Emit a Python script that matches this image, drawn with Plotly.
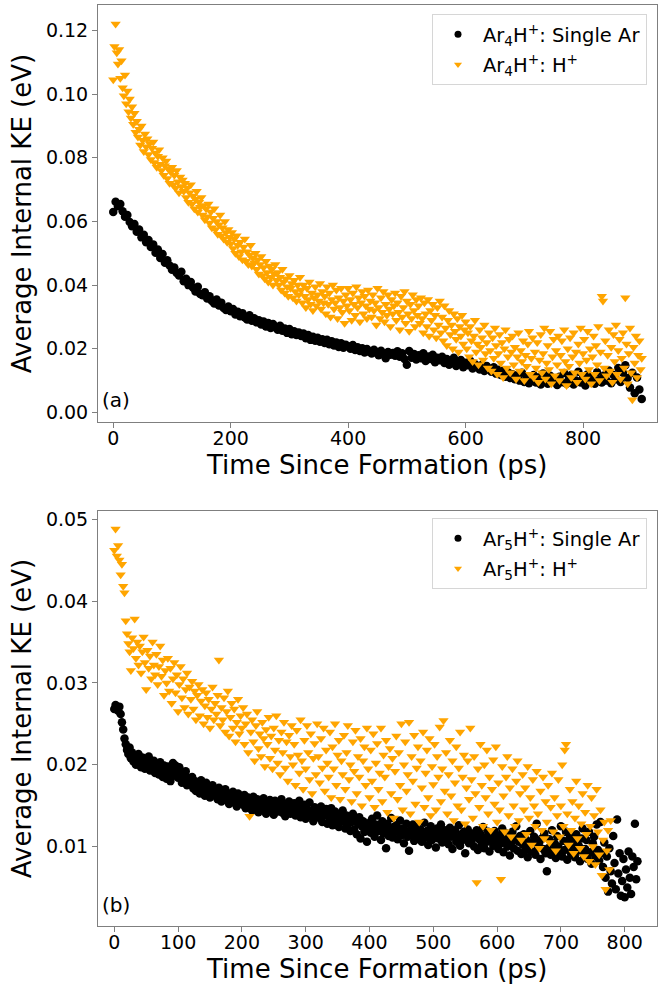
import plotly.graph_objects as go

# ---------------- Panel (a): Ar4H+ ----------------
time_a_single_ar = list(range(0, 901, 4))  # ps
time_a_h = list(range(0, 901, 2))          # ps

ke_a_single_ar = [
    0.0630, 0.0662, 0.0648, 0.0655, 0.0632, 0.0615, 0.0620, 0.0598, 0.0585, 0.0592,
    0.0568, 0.0575, 0.0550, 0.0558, 0.0535, 0.0542, 0.0520, 0.0528, 0.0502, 0.0512,
    0.0485, 0.0498, 0.0470, 0.0478, 0.0462, 0.0448, 0.0455, 0.0438, 0.0430, 0.0442,
    0.0412, 0.0420, 0.0400, 0.0410, 0.0392, 0.0380, 0.0395, 0.0372, 0.0368, 0.0378,
    0.0358, 0.0365, 0.0350, 0.0342, 0.0355, 0.0336, 0.0345, 0.0328, 0.0322, 0.0333,
    0.0318, 0.0325, 0.0308, 0.0316, 0.0302, 0.0312, 0.0298, 0.0292, 0.0305, 0.0288,
    0.0296, 0.0283, 0.0290, 0.0276, 0.0286, 0.0270, 0.0281, 0.0265, 0.0278, 0.0268,
    0.0260, 0.0272, 0.0257, 0.0264, 0.0250, 0.0262, 0.0246, 0.0255, 0.0243, 0.0251,
    0.0240, 0.0248, 0.0233, 0.0243, 0.0228, 0.0238, 0.0225, 0.0235, 0.0222, 0.0230,
    0.0218, 0.0228, 0.0214, 0.0224, 0.0210, 0.0220, 0.0206, 0.0217, 0.0203, 0.0213,
    0.0208, 0.0200, 0.0212, 0.0196, 0.0205, 0.0193, 0.0202, 0.0188, 0.0199, 0.0191,
    0.0185, 0.0197, 0.0188, 0.0180, 0.0194, 0.0183, 0.0170, 0.0190, 0.0181, 0.0187,
    0.0178, 0.0192, 0.0175, 0.0186, 0.0168, 0.0150, 0.0193, 0.0172, 0.0184, 0.0166,
    0.0180, 0.0170, 0.0186, 0.0162, 0.0176, 0.0168, 0.0181, 0.0158, 0.0172, 0.0164,
    0.0175, 0.0155, 0.0168, 0.0150, 0.0163, 0.0172, 0.0146, 0.0158, 0.0165, 0.0142,
    0.0156, 0.0148, 0.0162, 0.0138, 0.0152, 0.0144, 0.0135, 0.0150, 0.0130, 0.0146,
    0.0136, 0.0128, 0.0142, 0.0122, 0.0134, 0.0118, 0.0130, 0.0112, 0.0126, 0.0108,
    0.0120, 0.0104, 0.0116, 0.0100, 0.0125, 0.0096, 0.0112, 0.0092, 0.0108, 0.0118,
    0.0094, 0.0110, 0.0088, 0.0122, 0.0100, 0.0090, 0.0115, 0.0098, 0.0106, 0.0086,
    0.0112, 0.0095, 0.0124, 0.0090, 0.0105, 0.0118, 0.0088, 0.0100, 0.0128, 0.0094,
    0.0108, 0.0085, 0.0120, 0.0098, 0.0112, 0.0090, 0.0126, 0.0102, 0.0094, 0.0116,
    0.0100, 0.0132, 0.0092, 0.0118, 0.0104, 0.0140, 0.0096, 0.0125, 0.0148, 0.0108,
    0.0078, 0.0125, 0.0060, 0.0110, 0.0072, 0.0042,
]

ke_a_h = [
    0.1045, 0.1150, 0.1220, 0.1130, 0.1095, 0.1140, 0.1050, 0.1105, 0.1020, 0.0995, 0.1060, 0.0970, 0.1010, 0.0945, 0.0985, 0.0925, 0.0960, 0.0905, 0.0940, 0.0880,
    0.0915, 0.0865, 0.0890, 0.0840, 0.0900, 0.0855, 0.0820, 0.0875, 0.0835, 0.0860, 0.0810, 0.0845, 0.0795, 0.0830, 0.0850, 0.0785, 0.0815, 0.0770, 0.0805, 0.0825,
    0.0780, 0.0760, 0.0800, 0.0745, 0.0775, 0.0790, 0.0735, 0.0765, 0.0720, 0.0755, 0.0770, 0.0715, 0.0745, 0.0705, 0.0760, 0.0725, 0.0690, 0.0740, 0.0710, 0.0730,
    0.0695, 0.0720, 0.0675, 0.0705, 0.0660, 0.0690, 0.0715, 0.0655, 0.0680, 0.0640, 0.0670, 0.0695, 0.0630, 0.0660, 0.0645, 0.0675, 0.0620, 0.0650, 0.0605, 0.0640,
    0.0615, 0.0655, 0.0595, 0.0630, 0.0580, 0.0610, 0.0640, 0.0575, 0.0600, 0.0560, 0.0590, 0.0620, 0.0555, 0.0580, 0.0545, 0.0600, 0.0565, 0.0535, 0.0575, 0.0550,
    0.0530, 0.0565, 0.0515, 0.0545, 0.0500, 0.0555, 0.0525, 0.0490, 0.0535, 0.0505, 0.0480, 0.0520, 0.0545, 0.0475, 0.0505, 0.0465, 0.0495, 0.0525, 0.0460, 0.0485,
    0.0470, 0.0500, 0.0450, 0.0480, 0.0435, 0.0465, 0.0490, 0.0430, 0.0455, 0.0420, 0.0475, 0.0440, 0.0410, 0.0460, 0.0425, 0.0450, 0.0400, 0.0435, 0.0465, 0.0415,
    0.0440, 0.0400, 0.0425, 0.0385, 0.0450, 0.0410, 0.0375, 0.0420, 0.0395, 0.0365, 0.0430, 0.0390, 0.0405, 0.0360, 0.0415, 0.0380, 0.0350, 0.0400, 0.0370, 0.0425,
    0.0385, 0.0345, 0.0400, 0.0365, 0.0330, 0.0390, 0.0355, 0.0410, 0.0340, 0.0375, 0.0320, 0.0360, 0.0395, 0.0335, 0.0370, 0.0350, 0.0405, 0.0325, 0.0380, 0.0345,
    0.0365, 0.0310, 0.0395, 0.0340, 0.0375, 0.0300, 0.0355, 0.0400, 0.0325, 0.0345, 0.0385, 0.0295, 0.0360, 0.0330, 0.0390, 0.0315, 0.0350, 0.0280, 0.0370, 0.0335,
    0.0390, 0.0320, 0.0355, 0.0290, 0.0375, 0.0340, 0.0305, 0.0395, 0.0330, 0.0360, 0.0285, 0.0345, 0.0380, 0.0310, 0.0365, 0.0335, 0.0295, 0.0385, 0.0325, 0.0350,
    0.0300, 0.0370, 0.0320, 0.0345, 0.0275, 0.0390, 0.0330, 0.0295, 0.0360, 0.0315, 0.0380, 0.0285, 0.0340, 0.0305, 0.0370, 0.0325, 0.0270, 0.0355, 0.0310, 0.0335,
    0.0375, 0.0290, 0.0345, 0.0315, 0.0260, 0.0365, 0.0300, 0.0330, 0.0380, 0.0280, 0.0350, 0.0310, 0.0255, 0.0340, 0.0295, 0.0370, 0.0320, 0.0270, 0.0355, 0.0305,
    0.0335, 0.0280, 0.0360, 0.0295, 0.0250, 0.0345, 0.0310, 0.0270, 0.0355, 0.0240, 0.0320, 0.0290, 0.0340, 0.0260, 0.0305, 0.0235, 0.0330, 0.0275, 0.0350, 0.0250,
    0.0300, 0.0225, 0.0335, 0.0265, 0.0210, 0.0290, 0.0320, 0.0245, 0.0275, 0.0200, 0.0310, 0.0255, 0.0230, 0.0295, 0.0190, 0.0270, 0.0240, 0.0305, 0.0215, 0.0260,
    0.0285, 0.0200, 0.0250, 0.0175, 0.0270, 0.0225, 0.0160, 0.0240, 0.0290, 0.0190, 0.0215, 0.0150, 0.0260, 0.0205, 0.0235, 0.0165, 0.0275, 0.0185, 0.0220, 0.0140,
    0.0250, 0.0195, 0.0130, 0.0235, 0.0170, 0.0265, 0.0210, 0.0120, 0.0185, 0.0245, 0.0155, 0.0220, 0.0110, 0.0200, 0.0260, 0.0140, 0.0175, 0.0230, 0.0125, 0.0190,
    0.0240, 0.0150, 0.0205, 0.0105, 0.0175, 0.0250, 0.0130, 0.0195, 0.0160, 0.0225, 0.0100, 0.0180, 0.0145, 0.0215, 0.0255, 0.0120, 0.0170, 0.0235, 0.0110, 0.0190,
    0.0140, 0.0220, 0.0095, 0.0165, 0.0245, 0.0125, 0.0185, 0.0265, 0.0105, 0.0155, 0.0210, 0.0135, 0.0255, 0.0090, 0.0175, 0.0230, 0.0115, 0.0195, 0.0150, 0.0240,
    0.0100, 0.0180, 0.0225, 0.0130, 0.0260, 0.0160, 0.0085, 0.0200, 0.0145, 0.0235, 0.0110, 0.0175, 0.0250, 0.0125, 0.0190, 0.0095, 0.0215, 0.0155, 0.0265, 0.0120,
    0.0185, 0.0230, 0.0105, 0.0165, 0.0255, 0.0135, 0.0200, 0.0090, 0.0175, 0.0240, 0.0120, 0.0210, 0.0150, 0.0270, 0.0100, 0.0190, 0.0365, 0.0350, 0.0140, 0.0225,
    0.0115, 0.0180, 0.0260, 0.0130, 0.0205, 0.0095, 0.0245, 0.0160, 0.0275, 0.0120, 0.0195, 0.0230, 0.0105, 0.0170, 0.0250, 0.0140, 0.0360, 0.0215, 0.0090, 0.0185,
    0.0265, 0.0125, 0.0040, 0.0205, 0.0155, 0.0240, 0.0110, 0.0180, 0.0225, 0.0135, 0.0170,
]

# ---------------- Panel (b): Ar5H+ ----------------
time_b_single_ar = list(range(0, 821, 2))  # ps
time_b_h = list(range(0, 779, 2))          # ps

ke_b_single_ar = [
    0.0268, 0.0273, 0.0270, 0.0266, 0.0271, 0.0262, 0.0252, 0.0243, 0.0232, 0.0225, 0.0218, 0.0213, 0.0221, 0.0208, 0.0215, 0.0204, 0.0211, 0.0200, 0.0207, 0.0213,
    0.0203, 0.0197, 0.0209, 0.0201, 0.0195, 0.0206, 0.0199, 0.0210, 0.0193, 0.0202, 0.0196, 0.0205, 0.0190, 0.0200, 0.0194, 0.0188, 0.0203, 0.0197, 0.0185, 0.0199,
    0.0192, 0.0183, 0.0198, 0.0189, 0.0180, 0.0194, 0.0202, 0.0187, 0.0199, 0.0193, 0.0184, 0.0197, 0.0190, 0.0178, 0.0186, 0.0181, 0.0192, 0.0175, 0.0184, 0.0179,
    0.0176, 0.0185, 0.0171, 0.0180, 0.0168, 0.0177, 0.0173, 0.0165, 0.0181, 0.0170, 0.0174, 0.0162, 0.0178, 0.0167, 0.0172, 0.0160, 0.0169, 0.0175, 0.0163, 0.0170,
    0.0166, 0.0158, 0.0172, 0.0164, 0.0155, 0.0168, 0.0161, 0.0170, 0.0157, 0.0165, 0.0152, 0.0163, 0.0159, 0.0167, 0.0154, 0.0161, 0.0149, 0.0165, 0.0156, 0.0162,
    0.0158, 0.0151, 0.0163, 0.0147, 0.0157, 0.0160, 0.0150, 0.0155, 0.0144, 0.0161, 0.0153, 0.0148, 0.0158, 0.0142, 0.0155, 0.0150, 0.0146, 0.0159, 0.0152, 0.0140,
    0.0154, 0.0148, 0.0157, 0.0145, 0.0151, 0.0139, 0.0156, 0.0147, 0.0153, 0.0143, 0.0150, 0.0158, 0.0141, 0.0149, 0.0137, 0.0152, 0.0146, 0.0155, 0.0140, 0.0148,
    0.0145, 0.0153, 0.0138, 0.0149, 0.0142, 0.0156, 0.0136, 0.0147, 0.0143, 0.0151, 0.0134, 0.0146, 0.0140, 0.0154, 0.0137, 0.0144, 0.0131, 0.0148, 0.0139, 0.0145,
    0.0141, 0.0135, 0.0149, 0.0130, 0.0143, 0.0138, 0.0146, 0.0128, 0.0140, 0.0134, 0.0147, 0.0126, 0.0137, 0.0143, 0.0129, 0.0139, 0.0124, 0.0136, 0.0131, 0.0144,
    0.0133, 0.0122, 0.0138, 0.0127, 0.0134, 0.0119, 0.0130, 0.0140, 0.0121, 0.0132, 0.0115, 0.0128, 0.0136, 0.0110, 0.0125, 0.0131, 0.0118, 0.0127, 0.0106, 0.0123,
    0.0129, 0.0117, 0.0134, 0.0121, 0.0112, 0.0127, 0.0138, 0.0119, 0.0125, 0.0108, 0.0131, 0.0116, 0.0123, 0.0098, 0.0128, 0.0113, 0.0120, 0.0135, 0.0111, 0.0124,
    0.0118, 0.0126, 0.0109, 0.0121, 0.0132, 0.0114, 0.0122, 0.0104, 0.0119, 0.0128, 0.0112, 0.0095, 0.0120, 0.0115, 0.0127, 0.0107, 0.0118, 0.0124, 0.0110, 0.0116,
    0.0121, 0.0106, 0.0117, 0.0129, 0.0111, 0.0119, 0.0102, 0.0114, 0.0125, 0.0108, 0.0118, 0.0113, 0.0099, 0.0122, 0.0110, 0.0116, 0.0127, 0.0105, 0.0115, 0.0120,
    0.0109, 0.0117, 0.0103, 0.0123, 0.0112, 0.0097, 0.0114, 0.0120, 0.0106, 0.0111, 0.0126, 0.0101, 0.0115, 0.0108, 0.0118, 0.0092, 0.0110, 0.0121, 0.0104, 0.0113,
    0.0107, 0.0116, 0.0100, 0.0112, 0.0120, 0.0096, 0.0109, 0.0115, 0.0103, 0.0124, 0.0098, 0.0111, 0.0106, 0.0118, 0.0094, 0.0108, 0.0113, 0.0101, 0.0119, 0.0105,
    0.0110, 0.0097, 0.0114, 0.0104, 0.0122, 0.0093, 0.0107, 0.0116, 0.0100, 0.0112, 0.0089, 0.0105, 0.0118, 0.0098, 0.0109, 0.0125, 0.0095, 0.0106, 0.0113, 0.0091,
    0.0103, 0.0115, 0.0096, 0.0108, 0.0087, 0.0101, 0.0119, 0.0094, 0.0106, 0.0112, 0.0090, 0.0128, 0.0099, 0.0105, 0.0085, 0.0110, 0.0097, 0.0116, 0.0092, 0.0070,
    0.0098, 0.0109, 0.0090, 0.0120, 0.0095, 0.0104, 0.0086, 0.0113, 0.0100, 0.0093, 0.0125, 0.0088, 0.0107, 0.0096, 0.0118, 0.0084, 0.0102, 0.0111, 0.0091, 0.0099,
    0.0106, 0.0087, 0.0115, 0.0094, 0.0101, 0.0082, 0.0110, 0.0122, 0.0090, 0.0097, 0.0108, 0.0085, 0.0118, 0.0093, 0.0079, 0.0104, 0.0112, 0.0088, 0.0127, 0.0096,
    0.0083, 0.0130, 0.0092, 0.0075, 0.0105, 0.0062, 0.0088, 0.0045, 0.0098, 0.0070, 0.0055, 0.0113, 0.0080, 0.0048, 0.0133, 0.0067, 0.0092, 0.0040, 0.0058, 0.0085,
    0.0038, 0.0072, 0.0050, 0.0094, 0.0062, 0.0042, 0.0088, 0.0075, 0.0128, 0.0060, 0.0082,
]

ke_b_h = [
    0.0462, 0.0488, 0.0455, 0.0468, 0.0450, 0.0432, 0.0445, 0.0418, 0.0410, 0.0376, 0.0360, 0.0348, 0.0338, 0.0315, 0.0355, 0.0342, 0.0378, 0.0330, 0.0350, 0.0322,
    0.0345, 0.0312, 0.0338, 0.0356, 0.0325, 0.0292, 0.0340, 0.0318, 0.0333, 0.0305, 0.0350, 0.0322, 0.0310, 0.0335, 0.0298, 0.0320, 0.0345, 0.0308, 0.0328, 0.0285,
    0.0315, 0.0300, 0.0330, 0.0290, 0.0318, 0.0275, 0.0305, 0.0325, 0.0288, 0.0310, 0.0265, 0.0298, 0.0320, 0.0282, 0.0305, 0.0270, 0.0292, 0.0312, 0.0262, 0.0295,
    0.0280, 0.0302, 0.0268, 0.0290, 0.0255, 0.0285, 0.0298, 0.0260, 0.0278, 0.0292, 0.0250, 0.0272, 0.0288, 0.0258, 0.0280, 0.0245, 0.0268, 0.0295, 0.0255, 0.0275,
    0.0262, 0.0285, 0.0328, 0.0248, 0.0270, 0.0255, 0.0282, 0.0240, 0.0265, 0.0290, 0.0235, 0.0258, 0.0275, 0.0245, 0.0268, 0.0228, 0.0252, 0.0280, 0.0238, 0.0260,
    0.0245, 0.0270, 0.0225, 0.0250, 0.0262, 0.0215, 0.0137, 0.0240, 0.0255, 0.0228, 0.0205, 0.0248, 0.0265, 0.0220, 0.0238, 0.0210, 0.0252, 0.0232, 0.0198, 0.0243,
    0.0225, 0.0258, 0.0208, 0.0235, 0.0195, 0.0245, 0.0218, 0.0260, 0.0202, 0.0230, 0.0188, 0.0240, 0.0215, 0.0252, 0.0196, 0.0228, 0.0180, 0.0236, 0.0210, 0.0248,
    0.0200, 0.0225, 0.0175, 0.0242, 0.0212, 0.0190, 0.0255, 0.0205, 0.0170, 0.0230, 0.0195, 0.0248, 0.0215, 0.0182, 0.0238, 0.0165, 0.0208, 0.0226, 0.0188, 0.0250,
    0.0210, 0.0178, 0.0232, 0.0196, 0.0245, 0.0168, 0.0218, 0.0202, 0.0185, 0.0240, 0.0160, 0.0222, 0.0195, 0.0250, 0.0175, 0.0212, 0.0230, 0.0158, 0.0205, 0.0188,
    0.0236, 0.0170, 0.0215, 0.0248, 0.0182, 0.0200, 0.0155, 0.0228, 0.0192, 0.0242, 0.0165, 0.0210, 0.0185, 0.0232, 0.0150, 0.0205, 0.0222, 0.0175, 0.0245, 0.0195,
    0.0160, 0.0218, 0.0180, 0.0238, 0.0148, 0.0202, 0.0226, 0.0170, 0.0190, 0.0245, 0.0155, 0.0212, 0.0185, 0.0230, 0.0142, 0.0198, 0.0220, 0.0165, 0.0208, 0.0135,
    0.0192, 0.0235, 0.0158, 0.0215, 0.0175, 0.0250, 0.0145, 0.0200, 0.0228, 0.0168, 0.0188, 0.0252, 0.0140, 0.0210, 0.0180, 0.0236, 0.0152, 0.0196, 0.0222, 0.0130,
    0.0205, 0.0172, 0.0240, 0.0148, 0.0190, 0.0218, 0.0160, 0.0232, 0.0138, 0.0198, 0.0176, 0.0225, 0.0145, 0.0210, 0.0185, 0.0246, 0.0155, 0.0195, 0.0254, 0.0168,
    0.0215, 0.0140, 0.0188, 0.0230, 0.0162, 0.0205, 0.0132, 0.0178, 0.0222, 0.0150, 0.0196, 0.0240, 0.0145, 0.0185, 0.0212, 0.0128, 0.0172, 0.0205, 0.0158, 0.0245,
    0.0182, 0.0135, 0.0210, 0.0165, 0.0056, 0.0195, 0.0148, 0.0225, 0.0175, 0.0125, 0.0200, 0.0160, 0.0218, 0.0140, 0.0185, 0.0120, 0.0170, 0.0206, 0.0152, 0.0222,
    0.0130, 0.0178, 0.0145, 0.0060, 0.0198, 0.0162, 0.0118, 0.0185, 0.0210, 0.0138, 0.0172, 0.0112, 0.0195, 0.0150, 0.0125, 0.0180, 0.0205, 0.0132, 0.0165, 0.0108,
    0.0188, 0.0145, 0.0172, 0.0115, 0.0198, 0.0135, 0.0160, 0.0102, 0.0182, 0.0150, 0.0125, 0.0192, 0.0140, 0.0098, 0.0168, 0.0120, 0.0185, 0.0110, 0.0155, 0.0130,
    0.0175, 0.0105, 0.0148, 0.0190, 0.0118, 0.0160, 0.0095, 0.0138, 0.0182, 0.0112, 0.0150, 0.0200, 0.0125, 0.0218, 0.0225, 0.0140, 0.0102, 0.0170, 0.0120, 0.0155,
    0.0092, 0.0135, 0.0180, 0.0110, 0.0150, 0.0098, 0.0128, 0.0165, 0.0088, 0.0142, 0.0115, 0.0175, 0.0082, 0.0125, 0.0160, 0.0100, 0.0138, 0.0078, 0.0170, 0.0118,
    0.0090, 0.0145, 0.0065, 0.0108, 0.0130, 0.0048, 0.0095, 0.0120, 0.0072, 0.0132,
]

x_ticks_a = [0, 200, 400, 600, 800]
y_ticks_a = [0.00, 0.02, 0.04, 0.06, 0.08, 0.10, 0.12]
x_ticks_b = [0, 100, 200, 300, 400, 500, 600, 700, 800]
y_ticks_b = [0.01, 0.02, 0.03, 0.04, 0.05]

names_a = ["Ar<sub>4</sub>H<sup>+</sup>: Single Ar", "Ar<sub>4</sub>H<sup>+</sup>: H<sup>+</sup>"]
names_b = ["Ar<sub>5</sub>H<sup>+</sup>: Single Ar", "Ar<sub>5</sub>H<sup>+</sup>: H<sup>+</sup>"]
x_title = "Time Since Formation (ps)"
y_title = "Average Internal KE (eV)"

BLACK = "#000000"
ORANGE = "#FFA500"
FONT = "DejaVu Sans"

W, H = 666, 984
xdom = [98 / W, 657 / W]
ydom_a = [1 - 422 / H, 1 - 5 / H]
ydom_b = [1 - 926 / H, 1 - 511 / H]

fig = go.Figure()

def add_panel(t1, y1, t2, y2, names, xa, ya, leg):
    fig.add_trace(go.Scatter(x=t1, y=y1, mode="markers", xaxis=xa, yaxis=ya,
                             marker=dict(symbol="circle", size=8.5, color=BLACK),
                             showlegend=False, hoverinfo="skip"))
    fig.add_trace(go.Scatter(x=t2, y=y2, mode="markers", xaxis=xa, yaxis=ya,
                             marker=dict(symbol="triangle-down", size=9, color=ORANGE),
                             showlegend=False, hoverinfo="skip"))
    # legend entries (smaller symbols, like the reference legend)
    fig.add_trace(go.Scatter(x=[None], y=[None], mode="markers", xaxis=xa, yaxis=ya,
                             marker=dict(symbol="circle", size=7, color=BLACK),
                             name=names[0], legend=leg, legendgroup=leg + "1"))
    fig.add_trace(go.Scatter(x=[None], y=[None], mode="markers", xaxis=xa, yaxis=ya,
                             marker=dict(symbol="triangle-down", size=7, color=ORANGE),
                             name=names[1], legend=leg, legendgroup=leg + "2"))

add_panel(time_a_single_ar, ke_a_single_ar, time_a_h, ke_a_h, names_a, "x", "y", "legend")
add_panel(time_b_single_ar, ke_b_single_ar, time_b_h, ke_b_h, names_b, "x2", "y2", "legend2")

axis_common = dict(showline=True, mirror=True, linecolor="#7f7f7f", linewidth=1,
                   ticks="outside", ticklen=5, tickwidth=1, tickcolor="#7f7f7f",
                   showgrid=False, zeroline=False, automargin=False,
                   tickfont=dict(family=FONT, size=19, color="#000"))

title_font = dict(family=FONT, size=26, color="#000")

legend_common = dict(xanchor="right", yanchor="top", x=647 / W,
                     bgcolor="rgba(255,255,255,0.8)", bordercolor="#d6d6d6", borderwidth=1,
                     font=dict(family=FONT, size=19.5, color="#000"),
                     tracegroupgap=2, itemwidth=40)

fig.update_layout(
    width=W, height=H,
    margin=dict(l=0, r=0, t=0, b=0),
    paper_bgcolor="white", plot_bgcolor="white",
    font=dict(family=FONT),
    xaxis=dict(domain=xdom, anchor="y", range=[-26, 926], tickvals=x_ticks_a,
               ticklabelstandoff=-6, **axis_common),
    yaxis=dict(domain=ydom_a, anchor="x", range=[-0.003, 0.128], tickvals=y_ticks_a,
               tickformat=".2f",
               title=dict(text=y_title, font=title_font, standoff=6),
               **axis_common),
    xaxis2=dict(domain=xdom, anchor="y2", range=[-25.5, 850.6], tickvals=x_ticks_b,
                ticklabelstandoff=-6, **axis_common),
    yaxis2=dict(domain=ydom_b, anchor="x2", range=[0.0003, 0.051], tickvals=y_ticks_b,
                tickformat=".2f",
                title=dict(text=y_title, font=title_font, standoff=6),
                **axis_common),
    legend=dict(y=1 - 14 / H, **legend_common),
    legend2=dict(y=1 - 518 / H, **legend_common),
    annotations=[
        dict(text=x_title, xref="paper", yref="paper", x=377 / W, y=1 - 465 / H,
             xanchor="center", yanchor="middle", showarrow=False, font=title_font),
        dict(text=x_title, xref="paper", yref="paper", x=377 / W, y=1 - 969 / H,
             xanchor="center", yanchor="middle", showarrow=False, font=title_font),
        dict(text="(a)", xref="x domain", yref="y domain", x=0.004, y=0.053,
             xanchor="left", yanchor="middle", showarrow=False,
             font=dict(family=FONT, size=20, color="#000")),
        dict(text="(b)", xref="x2 domain", yref="y2 domain", x=0.004, y=0.05,
             xanchor="left", yanchor="middle", showarrow=False,
             font=dict(family=FONT, size=20, color="#000")),
    ],
)

fig.write_html("out.html")
